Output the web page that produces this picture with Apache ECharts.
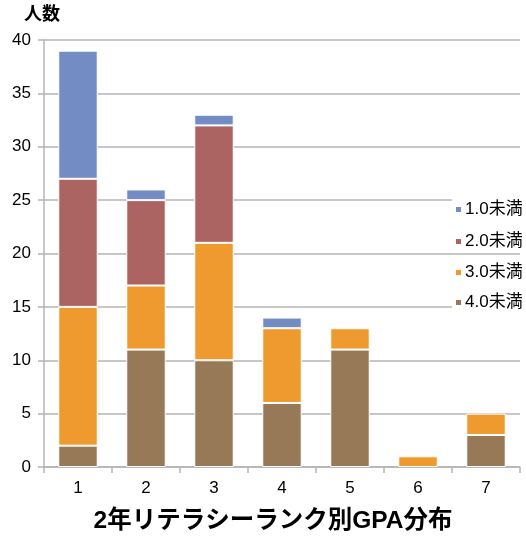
<!DOCTYPE html>
<html>
<head>
<meta charset="utf-8">
<script src="https://cdn.jsdelivr.net/npm/echarts@6/dist/echarts.min.js"></script>
<style>
  html, body { margin: 0; padding: 0; background: #fff; }
  #chart { width: 526px; height: 537px; }
</style>
</head>
<body>
<div id="chart"></div>
<script>
// Literacy rank (x) and headcount per GPA band, stacked bottom to top
const ranks = ['1', '2', '3', '4', '5', '6', '7'];
const below40 = [2, 11, 10, 6, 11, 0, 3];
const below30 = [13, 6, 11, 7, 2, 1, 2];
const below20 = [12, 8, 11, 0, 0, 0, 0];
const below10 = [12, 1, 1, 1, 0, 0, 0];
const yTicks = { min: 0, max: 40, step: 5 };

const FONT = '"Liberation Sans", "Noto Sans CJK JP", sans-serif';
const COLORS = {
  '1.0未満': '#738cc4',
  '2.0未満': '#ac6462',
  '3.0未満': '#ee9a2e',
  '4.0未満': '#977958'
};

// zero-height segments are skipped so no white edge is drawn over the axis
const seg = arr => arr.map(v => (v === 0 ? '-' : v));

function barSeries(name, data) {
  return {
    name: name,
    type: 'bar',
    stack: 'gpa',
    barWidth: '58%',
    data: seg(data),
    itemStyle: { color: COLORS[name], borderColor: '#ffffff', borderWidth: 1 },
    emphasis: { disabled: true }
  };
}

const legendOrder = ['1.0未満', '2.0未満', '3.0未満', '4.0未満'];
const legendTops = [199, 231, 262, 292];
const legends = legendOrder.map((name, i) => ({
  data: [name],
  left: 452,
  top: legendTops[i],
  orient: 'vertical',
  padding: [2, 0, 2, 2],
  backgroundColor: '#ffffff',
  itemWidth: 7,
  itemHeight: 7,
  itemGap: 0,
  icon: 'rect',
  selectedMode: false,
  textStyle: { fontFamily: FONT, fontSize: 17, color: '#000', padding: [0, 0, 0, -2] }
}));

const chart = echarts.init(document.getElementById('chart'), null, { renderer: 'canvas' });
chart.setOption({
  animation: false,
  backgroundColor: '#ffffff',
  grid: { left: 44, right: 6, top: 40, bottom: 70 },
  legend: legends,
  xAxis: {
    type: 'category',
    data: ranks,
    axisLine: { lineStyle: { color: '#b4b4b4', width: 1.5 } },
    axisTick: { show: true, length: 6, lineStyle: { color: '#b4b4b4', width: 1.5 } },
    axisLabel: { fontFamily: FONT, fontSize: 17, color: '#000', margin: 13 }
  },
  yAxis: {
    type: 'value',
    min: yTicks.min,
    max: yTicks.max,
    interval: yTicks.step,
    axisLine: { show: true, lineStyle: { color: '#b4b4b4', width: 1.5 } },
    axisTick: { show: true, length: 6, lineStyle: { color: '#b4b4b4', width: 1.5 } },
    splitLine: { lineStyle: { color: '#b4b4b4', width: 1.5 } },
    axisLabel: { fontFamily: FONT, fontSize: 17, color: '#000', margin: 13 }
  },
  series: [
    barSeries('4.0未満', below40),
    barSeries('3.0未満', below30),
    barSeries('2.0未満', below20),
    barSeries('1.0未満', below10)
  ],
  graphic: [
    {
      type: 'text',
      x: 42,
      y: 15,
      style: {
        text: '人数',
        fontFamily: FONT,
        fontSize: 18,
        fontWeight: 'bold',
        fill: '#000',
        textAlign: 'center',
        textVerticalAlign: 'middle'
      }
    },
    {
      type: 'text',
      x: 273,
      y: 521,
      style: {
        text: '2年リテラシーランク別GPA分布',
        fontFamily: FONT,
        fontSize: 24.5,
        fontWeight: 'bold',
        fill: '#000',
        textAlign: 'center',
        textVerticalAlign: 'middle'
      }
    }
  ]
});
</script>
</body>
</html>
